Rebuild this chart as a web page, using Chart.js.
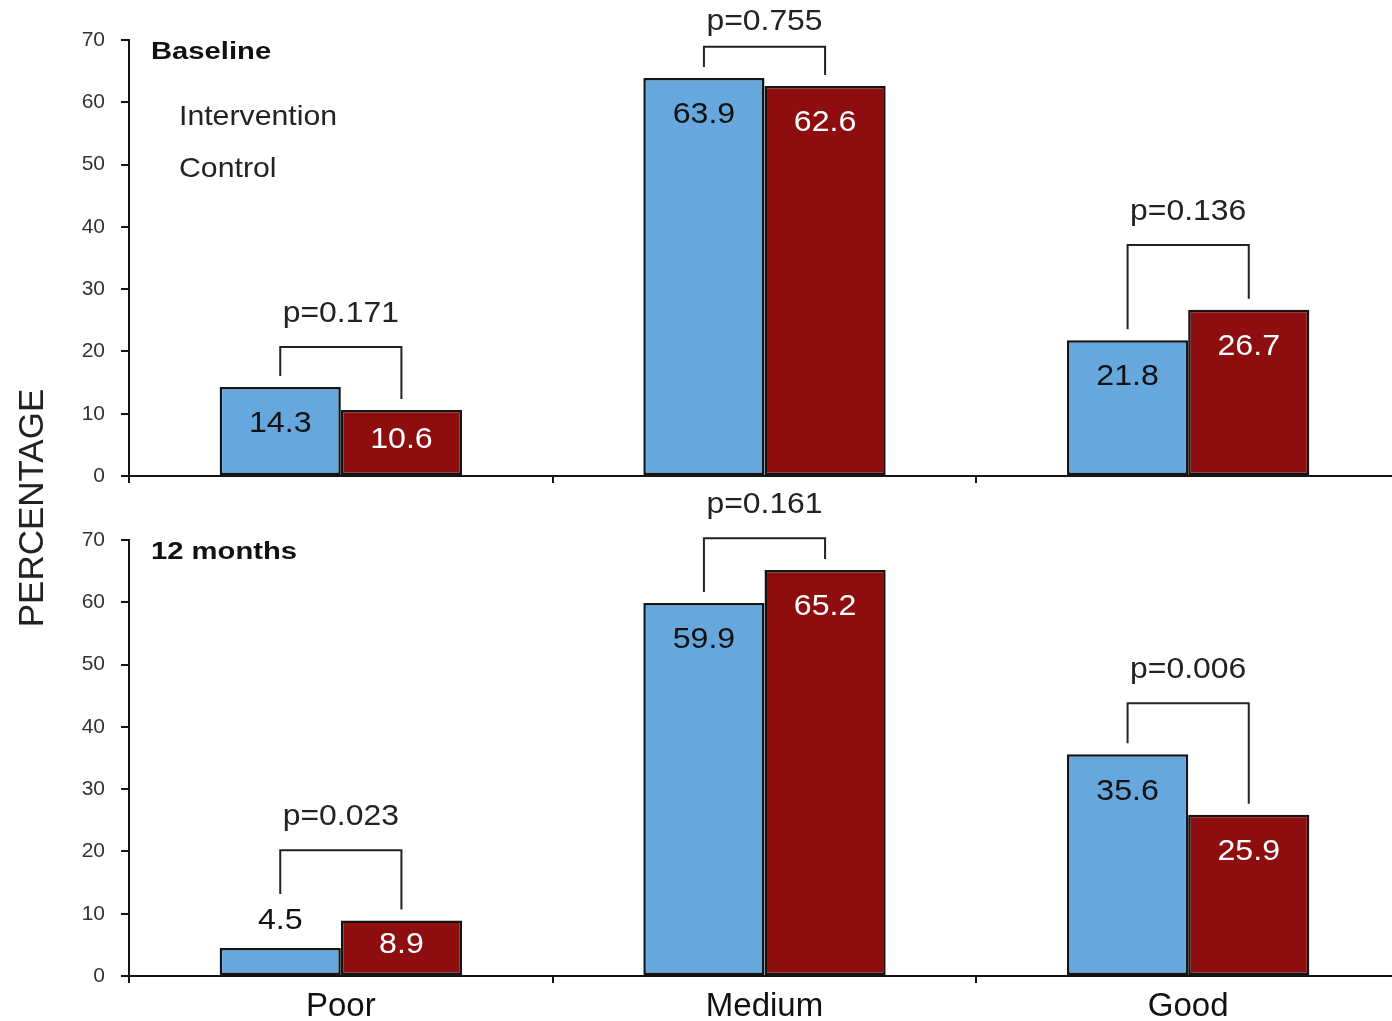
<!DOCTYPE html>
<html>
<head>
<meta charset="utf-8">
<script src="https://cdn.jsdelivr.net/npm/chart.js@4.4.0/dist/chart.umd.min.js"></script>
<style>
  html, body { margin: 0; background: #fff; overflow: hidden; }
  canvas { position: absolute; left: 0; top: 0; }
</style>
</head>
<body>
<!-- canvases run a few px past the window so the last category boundary falls just off-screen -->
<canvas id="top" width="1400" height="1021"></canvas>
<canvas id="bottom" width="1400" height="1021"></canvas>
<script>
const categories = ['Poor', 'Medium', 'Good'];
const seriesNames = ['Intervention', 'Control'];
const interventionBaseline = [14.3, 63.9, 21.8];
const controlBaseline = [10.6, 62.6, 26.7];
const intervention12 = [4.5, 59.9, 35.6];
const control12 = [8.9, 65.2, 25.9];
const pBaseline = ['p=0.171', 'p=0.755', 'p=0.136'];
const p12 = ['p=0.023', 'p=0.161', 'p=0.006'];
// bracket heights, in percentage units
const bracketBaseline = [20.7, 68.9, 37.1];
const bracket12 = [20.2, 70.3, 43.8];
const yTicks = [0, 10, 20, 30, 40, 50, 60, 70];

const FONT = '"Liberation Sans", Arial, Helvetica, sans-serif';
const BLUE = '#66a8de';
const RED = '#8e0e10';
const INK = '#141414';

function txt(ctx, s, x, y, font, color, sx, align) {
  ctx.save();
  ctx.translate(x, y);
  ctx.scale(sx, 1);
  ctx.font = font;
  ctx.fillStyle = color;
  ctx.textAlign = align;
  ctx.textBaseline = 'middle';
  ctx.fillText(s, 0, 0);
  ctx.restore();
}

const annotate = {
  id: 'annotate',
  afterDatasetsDraw(chart, args, opts) {
    const ctx = chart.ctx;
    const y = chart.scales.y;
    const metas = [chart.getDatasetMeta(0), chart.getDatasetMeta(1)];
    const labelY = [[], []];

    // value labels
    metas.forEach((meta, di) => {
      meta.data.forEach((bar, i) => {
        const v = chart.data.datasets[di].data[i];
        const h = bar.base - bar.y;
        let ty, col;
        if (h < 40) {
          ty = bar.y - 27; col = '#111';
          labelY[di][i] = ty - 16;
        } else {
          ty = h < 76 ? bar.y + h / 2 - 3 : bar.y + 37;
          col = di === 0 ? '#111' : '#fff';
          labelY[di][i] = bar.y;
        }
        txt(ctx, v.toFixed(1), bar.x, ty, '30px ' + FONT, col, 1.07, 'center');
      });
    });

    // significance brackets
    ctx.save();
    ctx.strokeStyle = '#222';
    ctx.lineWidth = 2;
    opts.levels.forEach((lvl, i) => {
      const by = y.getPixelForValue(lvl);
      const a = metas[0].data[i], b = metas[1].data[i];
      ctx.beginPath();
      ctx.moveTo(a.x, labelY[0][i] - 11);
      ctx.lineTo(a.x, by);
      ctx.lineTo(b.x, by);
      ctx.lineTo(b.x, labelY[1][i] - 11);
      ctx.stroke();
      txt(ctx, opts.pvals[i], (a.x + b.x) / 2, Math.max(by - 33, 22), '29px ' + FONT, '#222', 1.1, 'center');
    });
    ctx.restore();

    // panel title and legend text
    const ca = chart.chartArea;
    txt(ctx, opts.title, ca.left + 22, ca.top + 13, 'bold 23px ' + FONT, '#111', 1.27, 'left');
    if (opts.legend) {
      txt(ctx, seriesNames[0], ca.left + 50, ca.top + 77, '28px ' + FONT, '#222', 1.08, 'left');
      txt(ctx, seriesNames[1], ca.left + 50, ca.top + 129, '28px ' + FONT, '#222', 1.08, 'left');
    }
    if (opts.yTitle) {
      ctx.save();
      ctx.translate(33, 508);
      ctx.rotate(-Math.PI / 2);
      ctx.font = '35px ' + FONT;
      ctx.fillStyle = '#222';
      ctx.textAlign = 'center';
      ctx.textBaseline = 'middle';
      ctx.fillText('PERCENTAGE', 0, 0);
      ctx.restore();
    }
  }
};

function makeChart(id, intervention, control, opts) {
  return new Chart(document.getElementById(id), {
    type: 'bar',
    data: {
      labels: categories,
      datasets: [
        { label: seriesNames[0], data: intervention, backgroundColor: BLUE },
        { label: seriesNames[1], data: control, backgroundColor: RED }
      ]
    },
    options: {
      responsive: false,
      animation: false,
      layout: { padding: { top: opts.padTop, right: 0, left: 0, bottom: 0 } },
      datasets: {
        bar: {
          categoryPercentage: 0.572,
          barPercentage: 1.0,
          borderColor: INK,
          borderWidth: 2.5,
          borderSkipped: false
        }
      },
      scales: {
        x: {
          grid: { offset: true, drawOnChartArea: false, drawTicks: true, tickLength: 7, color: INK, lineWidth: 2 },
          border: { color: INK, width: 2 },
          ticks: { display: opts.xLabels, color: '#111', font: { family: FONT, size: 33 }, padding: 4, maxRotation: 0 },
          afterFit: (s) => { s.height = opts.xHeight; }
        },
        y: {
          min: 0,
          max: 70,
          afterBuildTicks: (s) => { s.ticks = yTicks.map(v => ({ value: v })); },
          grid: { drawOnChartArea: false, drawTicks: true, tickLength: 8, color: INK, lineWidth: 2 },
          border: { color: INK, width: 2 },
          ticks: { color: '#333', font: { family: FONT, size: 21 }, padding: 16 },
          afterFit: (s) => { s.width = 129; }
        }
      },
      plugins: {
        legend: { display: false },
        tooltip: { enabled: false },
        annotate: opts.annotate
      }
    },
    plugins: [annotate]
  });
}

makeChart('top', interventionBaseline, controlBaseline, {
  padTop: 40, xHeight: 545, xLabels: false,
  annotate: { title: 'Baseline', pvals: pBaseline, levels: bracketBaseline, legend: true, yTitle: true }
});
makeChart('bottom', intervention12, control12, {
  padTop: 540, xHeight: 45, xLabels: true,
  annotate: { title: '12 months', pvals: p12, levels: bracket12, legend: false, yTitle: false }
});
</script>
</body>
</html>
